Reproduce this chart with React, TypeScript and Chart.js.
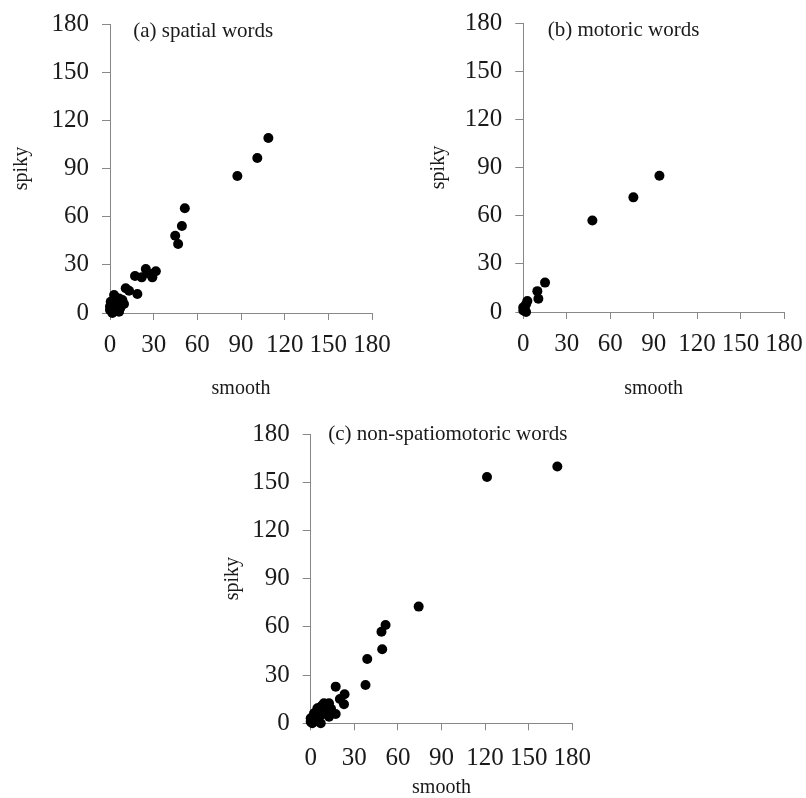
import React, { useEffect, useRef } from "react";
import { Chart, registerables } from "chart.js";

Chart.register(...registerables);

// ---- data ----
const TICK_VALUES = [0, 30, 60, 90, 120, 150, 180];
const X_TITLE = "smooth";
const Y_TITLE = "spiky";

const PANEL_TITLES = ["(a) spatial words", "(b) motoric words", "(c) non-spatiomotoric words"];

const spatialSmooth = [108.8, 101.2, 87.5, 51.4, 49.4, 44.8, 46.8, 31.5, 29.1, 24.6, 27, 21.8, 17.2, 18.8, 10.8, 13.1, 2.8, 6.2, 8.5, 9.6, 0.5, 3.9, 0, 6.2, 1.6, 0, 5, 2, 4, 7, 1];
const spatialSpiky = [109, 96.5, 85.3, 65.2, 54.2, 48.1, 43.0, 26.0, 22.2, 27.4, 24.5, 22.2, 23.0, 11.8, 15.4, 13.9, 11.2, 9.1, 8.1, 5.6, 7.0, 3.9, 1.9, 0.8, 0, 4, 6, 2, 8, 3, 5];

const motoricSmooth = [94, 76, 47.7, 15, 9.7, 10.4, 2.8, 1.9, 0, 0, 1.9, 1];
const motoricSpiky = [84.9, 71.4, 57, 18.3, 13, 8.3, 6.8, 4.8, 3, 1, 0, 2];

const nonSmooth = [169.7, 121.3, 74.3, 51.5, 48.7, 49.2, 38.9, 37.7, 17.2, 23.3, 20.1, 22.9, 17.2, 12.6, 9.1, 6.9, 4.6, 11.4, 12.6, 2.3, 6.9, 0, 1.1, 6.9, 3.4, 0, 9, 5, 8, 10, 14];
const nonSpiky = [159.8, 153.2, 72.6, 61.2, 57.0, 46.1, 40.0, 23.8, 22.8, 18.1, 15.1, 11.8, 5.8, 12.5, 12.5, 10.3, 9.3, 8.3, 4.1, 6.2, 5.2, 3.1, 0, 0, 1.6, 1, 8.3, 7.2, 11, 6, 9];

// ---- styles ----
const SERIF = '"Liberation Serif", "Times New Roman", "DejaVu Serif", serif';
const TEXT = "#1a1a1a";
const AXIS = "#888888";

type Geo = {
  left: number; top: number; w: number; h: number;
  padL: number; padR: number; padT: number; padB: number;
  yW: number; xH: number; dx: number; dy: number; xPad: number;
};

const panelLabel = {
  id: "panelLabel",
  afterDraw(chart: any, _args: any, opts: any) {
    const { ctx, chartArea } = chart;
    ctx.save();
    ctx.font = `21px ${SERIF}`;
    ctx.fillStyle = TEXT;
    ctx.textAlign = "left";
    ctx.textBaseline = "alphabetic";
    ctx.fillText(opts.text, chartArea.left + opts.dx, chartArea.top + opts.dy);
    ctx.restore();
  },
};

function Panel({ xs, ys, title, geo }: { xs: number[]; ys: number[]; title: string; geo: Geo }) {
  const ref = useRef<HTMLCanvasElement | null>(null);

  useEffect(() => {
    if (!ref.current) return;
    const tickFont = { family: SERIF, size: 25, lineHeight: 1.2 };
    const titleFont = { family: SERIF, size: 20, lineHeight: 1 };
    const setTicks = (s: any) => {
      s.ticks = TICK_VALUES.map((v) => ({ value: v }));
    };
    const zeroPad = (s: any) => {
      s.paddingLeft = 0;
      s.paddingRight = 0;
      s.paddingTop = 0;
      s.paddingBottom = 0;
    };
    const chart = new Chart(ref.current, {
      type: "scatter",
      data: {
        datasets: [
          {
            data: xs.map((x, i) => ({ x, y: ys[i] })),
            backgroundColor: "#000",
            borderWidth: 0,
            pointRadius: 5,
            pointHoverRadius: 5,
            clip: false as any,
          },
        ],
      },
      plugins: [panelLabel as any],
      options: {
        animation: false,
        responsive: false,
        maintainAspectRatio: false,
        events: [],
        layout: { padding: { left: geo.padL, right: geo.padR, top: geo.padT, bottom: geo.padB } },
        plugins: {
          legend: { display: false },
          tooltip: { enabled: false },
          title: { display: false },
          panelLabel: { text: title, dx: geo.dx, dy: geo.dy },
        } as any,
        scales: {
          x: {
            type: "linear",
            min: 0,
            max: 180,
            afterBuildTicks: setTicks,
            ticks: { font: tickFont, color: TEXT, padding: geo.xPad, maxRotation: 0, autoSkip: false },
            grid: { display: true, drawOnChartArea: false, drawTicks: true, tickLength: 7, color: AXIS, lineWidth: 1 },
            border: { display: true, color: AXIS, width: 1 },
            title: { display: true, text: X_TITLE, font: titleFont, color: TEXT, padding: 0 },
            afterFit: (s: any) => { s.height = geo.xH; zeroPad(s); },
          },
          y: {
            type: "linear",
            min: 0,
            max: 180,
            afterBuildTicks: setTicks,
            ticks: { font: tickFont, color: TEXT, padding: 13, autoSkip: false },
            grid: { display: true, drawOnChartArea: false, drawTicks: true, tickLength: 8, color: AXIS, lineWidth: 1 },
            border: { display: true, color: AXIS, width: 1 },
            title: { display: true, text: Y_TITLE, font: titleFont, color: TEXT, padding: 0 },
            afterFit: (s: any) => { s.width = geo.yW; zeroPad(s); },
          },
        } as any,
      },
    });
    return () => chart.destroy();
  }, [xs, ys, title, geo]);

  return (
    <canvas
      ref={ref}
      width={geo.w}
      height={geo.h}
      aria-label={title}
      style={{ position: "absolute", left: geo.left, top: geo.top, width: geo.w, height: geo.h }}
    />
  );
}

const GEO_A: Geo = { left: 0, top: 0, w: 400, h: 410, padL: 11.5, padR: 28, padT: 24, padB: 11, yW: 98.5, xH: 86, dx: 23.3, dy: 13.3, xPad: 10 };
const GEO_B: Geo = { left: 400, top: 0, w: 406, h: 410, padL: 29, padR: 22, padT: 23, padB: 11, yW: 94.3, xH: 87, dx: 24.4, dy: 13.3, xPad: 10 };
const GEO_C: Geo = { left: 200, top: 405, w: 400, h: 393, padL: 23, padR: 27.7, padT: 29, padB: 0, yW: 87.7, xH: 74.7, dx: 17.6, dy: 6, xPad: 13 };

export default function App() {
  return (
    <div style={{ position: "absolute", left: 0, top: 0, width: 806, height: 798, background: "#fff", overflow: "hidden" }}>
      <Panel xs={spatialSmooth} ys={spatialSpiky} title={PANEL_TITLES[0]} geo={GEO_A} />
      <Panel xs={motoricSmooth} ys={motoricSpiky} title={PANEL_TITLES[1]} geo={GEO_B} />
      <Panel xs={nonSmooth} ys={nonSpiky} title={PANEL_TITLES[2]} geo={GEO_C} />
    </div>
  );
}
